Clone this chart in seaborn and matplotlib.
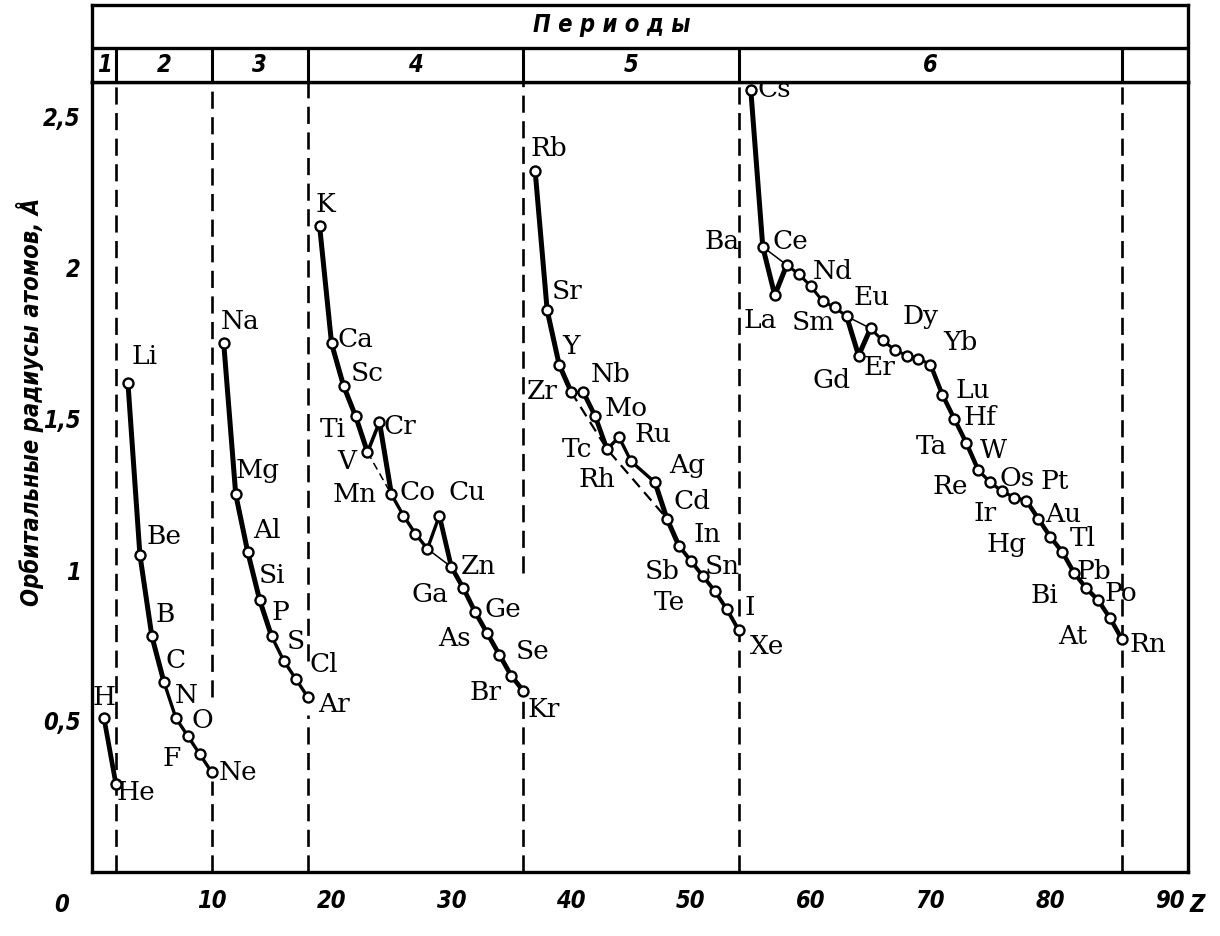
import matplotlib
matplotlib.use("Agg")
import matplotlib.pyplot as plt
import seaborn as sns
import pandas as pd

# orbital radii (Pd has no point on the original chart)
symbols = ["H", "He",
           "Li", "Be", "B", "C", "N", "O", "F", "Ne",
           "Na", "Mg", "Al", "Si", "P", "S", "Cl", "Ar",
           "K", "Ca", "Sc", "Ti", "V", "Cr", "Mn", "Fe", "Co", "Ni", "Cu", "Zn",
           "Ga", "Ge", "As", "Se", "Br", "Kr",
           "Rb", "Sr", "Y", "Zr", "Nb", "Mo", "Tc", "Ru", "Rh", "Ag", "Cd",
           "In", "Sn", "Sb", "Te", "I", "Xe",
           "Cs", "Ba", "La", "Ce", "Pr", "Nd", "Pm", "Sm", "Eu", "Gd", "Tb", "Dy",
           "Ho", "Er", "Tm", "Yb", "Lu", "Hf", "Ta", "W", "Re", "Os", "Ir", "Pt",
           "Au", "Hg", "Tl", "Pb", "Bi", "Po", "At", "Rn"]
z_numbers = [1, 2,
             3, 4, 5, 6, 7, 8, 9, 10,
             11, 12, 13, 14, 15, 16, 17, 18,
             19, 20, 21, 22, 23, 24, 25, 26, 27, 28, 29, 30,
             31, 32, 33, 34, 35, 36,
             37, 38, 39, 40, 41, 42, 43, 44, 45, 47, 48,
             49, 50, 51, 52, 53, 54,
             55, 56, 57, 58, 59, 60, 61, 62, 63, 64, 65, 66,
             67, 68, 69, 70, 71, 72, 73, 74, 75, 76, 77, 78,
             79, 80, 81, 82, 83, 84, 85, 86]
radii = [0.51, 0.29,
         1.62, 1.05, 0.78, 0.63, 0.51, 0.45, 0.39, 0.33,
         1.75, 1.25, 1.06, 0.90, 0.78, 0.70, 0.64, 0.58,
         2.14, 1.75, 1.61, 1.51, 1.39, 1.49, 1.25, 1.18, 1.12, 1.07, 1.18, 1.01,
         0.94, 0.86, 0.79, 0.72, 0.65, 0.60,
         2.32, 1.86, 1.68, 1.59, 1.59, 1.51, 1.40, 1.44, 1.36, 1.29, 1.17,
         1.08, 1.03, 0.98, 0.93, 0.87, 0.80,
         2.59, 2.07, 1.91, 2.01, 1.98, 1.94, 1.89, 1.87, 1.84, 1.71, 1.80, 1.76,
         1.73, 1.71, 1.70, 1.68, 1.58, 1.50, 1.42, 1.33, 1.29, 1.26, 1.24, 1.23,
         1.17, 1.11, 1.06, 0.99, 0.94, 0.90, 0.84, 0.77]

noble_gases = ["He", "Ne", "Ar", "Kr", "Xe", "Rn"]
period_labels = ["1", "2", "3", "4", "5", "6"]
y_ticks = [0.5, 1.0, 1.5, 2.0, 2.5]
y_tick_labels = ["0,5", "1", "1,5", "2", "2,5"]
x_ticks = [10, 20, 30, 40, 50, 60, 70, 80, 90]
x_tick_labels = ["10", "20", "30", "40", "50", "60", "70", "80", "90"]

# connecting lines: (chain of symbols, line width, line style)
chains = [
    (["H", "He"], 3.4, "-"),
    (["Li", "Be", "B", "C"], 3.6, "-"),
    (["C", "N", "O", "F", "Ne"], 2.4, "-"),
    (["Na", "Mg", "Al", "Si", "P"], 3.6, "-"),
    (["P", "S", "Cl", "Ar"], 2.4, "-"),
    (["K", "Ca", "Sc", "Ti", "V"], 3.6, "-"),
    (["V", "Cr"], 2.6, "-"),
    (["Cr", "Mn"], 3.6, "-"),
    (["Mn", "Fe", "Co", "Ni", "Cu"], 2.4, "-"),
    (["Cu", "Zn", "Ga", "Ge", "As", "Se", "Br", "Kr"], 3.4, "-"),
    (["Ni", "Zn"], 1.1, "-"),
    (["V", "Mn"], 1.1, "--"),
    (["Rb", "Sr", "Y", "Zr"], 3.6, "-"),
    (["Zr", "Nb"], 2.2, "-"),
    (["Nb", "Mo", "Tc"], 3.4, "-"),
    (["Tc", "Ru", "Rh", "Ag"], 2.4, "-"),
    (["Ag", "Cd", "In"], 3.6, "-"),
    (["In", "Sn", "Sb", "Te", "I", "Xe"], 2.8, "-"),
    (["Zr", "Tc", "Cd"], 1.6, "--"),
    (["Cs", "Ba", "La", "Ce"], 3.6, "-"),
    (["Ba", "Ce"], 1.1, "-"),
    (["Ce", "Pr", "Nd", "Pm", "Sm", "Eu"], 2.2, "-"),
    (["Eu", "Gd", "Tb"], 3.6, "-"),
    (["Eu", "Tb"], 1.1, "-"),
    (["Tb", "Dy", "Ho", "Er", "Tm", "Yb"], 2.2, "-"),
    (["Yb", "Lu", "Hf", "Ta", "W"], 3.2, "-"),
    (["W", "Re", "Os", "Ir", "Pt"], 2.4, "-"),
    (["Pt", "Au", "Hg", "Tl", "Pb", "Bi", "Po", "At", "Rn"], 3.2, "-"),
]

# label offsets from each point, in pixels (x right, y up)
label_offsets = {
    "H": (0, 20), "He": (20, -8), "Li": (17, 26), "Be": (24, 18), "B": (13, 22),
    "C": (12, 21), "N": (10, 22), "O": (15, 16), "F": (-28, -4), "Ne": (26, 0),
    "Na": (16, 22), "Mg": (22, 24), "Al": (19, 21), "Si": (12, 25), "P": (9, 24),
    "S": (12, 19), "Cl": (28, 14), "Ar": (26, -8),
    "K": (6, 21), "Ca": (24, 4), "Sc": (24, 12), "Ti": (-23, -14), "V": (-21, -9),
    "Cr": (20, -4), "Mn": (-37, 0), "Co": (2, 41), "Cu": (28, 23), "Zn": (27, 0),
    "Ga": (-33, -6), "Ge": (28, 3), "As": (-33, -5), "Se": (33, 3), "Br": (-26, -17),
    "Kr": (20, -19),
    "Rb": (14, 23), "Sr": (20, 19), "Y": (12, 18), "Zr": (-29, 0), "Nb": (28, 17),
    "Mo": (31, 7), "Tc": (-30, 0), "Ru": (34, 3), "Rh": (-34, -18), "Ag": (32, 17),
    "Cd": (25, 17), "In": (28, 11), "Sn": (31, -6), "Sb": (-41, 5), "Te": (-45, -11),
    "I": (23, 2), "Xe": (28, -16),
    "Cs": (24, 0), "Ba": (-41, 5), "La": (-15, -25), "Ce": (4, 23), "Nd": (22, 15),
    "Sm": (-21, -15), "Eu": (25, 19), "Gd": (-27, -25), "Er": (-27, -12),
    "Dy": (38, 24), "Yb": (30, 22), "Lu": (30, 4), "Hf": (26, 1), "Ta": (-35, -3),
    "W": (15, 20), "Re": (-40, -4), "Os": (15, 13), "Pt": (28, 19), "Ir": (-29, -16),
    "Au": (25, 4), "Hg": (-44, -8), "Tl": (21, 13), "Pb": (20, 2), "Bi": (-42, -7),
    "Po": (23, 7), "At": (-37, -18), "Rn": (26, -5),
}

df = pd.DataFrame({"symbol": symbols, "Z": z_numbers, "r": radii})
lookup = df.set_index("symbol")

sns.set_style("white")
plt.rcParams["font.family"] = ["DejaVu Serif"]
plt.rcParams["text.color"] = "black"
plt.rcParams["xtick.color"] = "black"
plt.rcParams["ytick.color"] = "black"
tick_font = dict(family=["DejaVu Sans"], style="italic", stretch="condensed",
                 weight="bold", color="black")

W, H = 1220, 936
fig = plt.figure(figsize=(W / 100, H / 100), dpi=100)
left, right, top_band, top_plot, bottom = 92, 1188, 5, 82, 872
ax = fig.add_axes([left / W, 1 - bottom / H, (right - left) / W, (bottom - top_plot) / H])
ax_top = fig.add_axes([left / W, 1 - top_plot / H, (right - left) / W, (top_plot - top_band) / H])

x_max = 91.5
y_max = (bottom - top_plot) / 302.0

# period boundaries through the noble gases, with gaps left for labels
gaps = {"Ne": (0.30, 0.58), "Ar": (0.52, 0.70), "Kr": (0.57, 0.99)}
for gas in noble_gases:
    zg = lookup.loc[gas, "Z"]
    if gas in gaps:
        lo, hi = gaps[gas]
        spans = [(0, lo), (hi, y_max)]
    else:
        spans = [(0, y_max)]
    for y0, y1 in spans:
        ax.plot([zg, zg], [y0, y1], color="black", lw=1.9, dashes=(6.5, 3.2), zorder=1)

for chain, lw, ls in chains:
    part = lookup.loc[chain]
    line_kw = dict(dashes=(5, 3)) if ls == "--" else dict(solid_capstyle="round")
    sns.lineplot(x=part["Z"].values, y=part["r"].values, sort=False, estimator=None,
                 color="black", lw=lw, ax=ax, zorder=3, **line_kw)

sns.scatterplot(data=df, x="Z", y="r", s=52, color="white", edgecolor="black",
                linewidth=1.7, ax=ax, zorder=5, legend=False)

for sym, (dx, dy) in label_offsets.items():
    ax.annotate(sym, (lookup.loc[sym, "Z"], lookup.loc[sym, "r"]), xytext=(dx, dy),
                textcoords="offset pixels", ha="center", va="center",
                fontsize=19, family="DejaVu Serif", color="black", zorder=6)

ax.set_xlim(0, x_max)
ax.set_ylim(0, y_max)
ax.set_xticks(x_ticks)
ax.set_xticklabels(x_tick_labels, fontsize=17, **tick_font)
ax.set_yticks(y_ticks)
ax.set_yticklabels(y_tick_labels, fontsize=17, **tick_font)
ax.tick_params(direction="in", length=9, width=1.5, pad=12)
ax.tick_params(axis="y", pad=8)
ax.set_xlabel("")
ax.set_ylabel("")
for s in ax.spines.values():
    s.set_linewidth(2.4)
    s.set_color("black")
# the 90 tick sits on the right frame, hide its mark
ax.xaxis.get_major_ticks()[-1].tick1line.set_visible(False)

fig.text(62 / W, 1 - 905 / H, "0", fontsize=17, ha="center", va="center", **tick_font)
fig.text(1197 / W, 1 - 905 / H, "Z", fontsize=17, ha="center", va="center", **tick_font)
fig.text(30 / W, 1 - 402 / H, "Орбитальные радиусы атомов, Å", rotation=90,
         fontsize=17, ha="center", va="center", **tick_font)

# header band: "Периоды" row and the period numbers
ax_top.set_xlim(0, x_max)
ax_top.set_ylim(0, 1)
ax_top.set_xticks([])
ax_top.set_yticks([])
for s in ax_top.spines.values():
    s.set_linewidth(2.4)
    s.set_color("black")
ax_top.axhline(0.44, color="black", lw=2.4)
bounds = [0] + [lookup.loc[g, "Z"] for g in noble_gases]
for b in bounds[1:]:
    ax_top.plot([b, b], [0, 0.44], color="black", lw=2.2)
for i, lab in enumerate(period_labels):
    ax_top.text((bounds[i] + bounds[i + 1]) / 2, 0.22, lab, fontsize=17,
                ha="center", va="center", **tick_font)
ax_top.text(43.4, 0.74, "П е р и о д ы", fontsize=17, ha="center", va="center", **tick_font)

fig.savefig("out.png", dpi=100, facecolor="white")
